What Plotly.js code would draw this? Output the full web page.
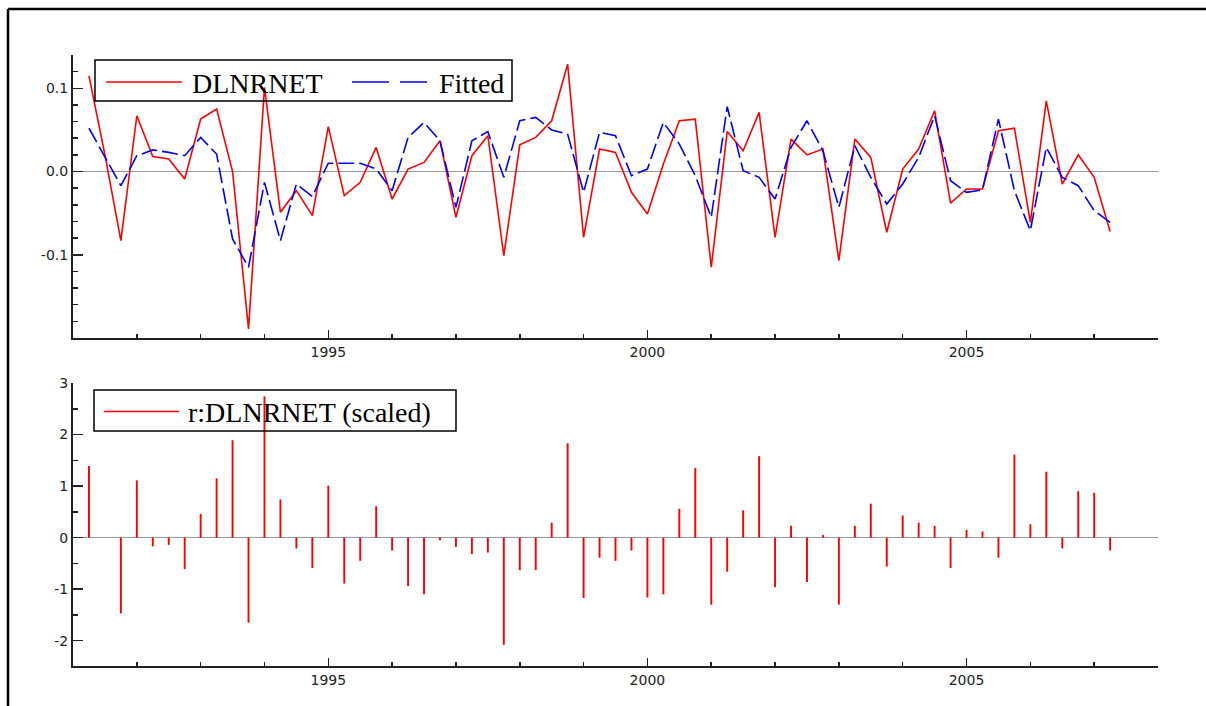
<!DOCTYPE html>
<html>
<head>
<meta charset="utf-8">
<script src="https://cdn.plot.ly/plotly-3.0.1.min.js"></script>
<style>
  html, body { margin: 0; padding: 0; background: #ffffff; }
  #chart { width: 1206px; height: 706px; }
</style>
</head>
<body>
<div id="chart"></div>
<script>
// ---- data (quarterly, 1991Q2 .. 2007Q2) ----
const startYear = 1991;
const startQuarter = 2;

const dlnrnet = [
  0.115, 0.020, -0.083, 0.067, 0.018, 0.015, -0.009, 0.063, 0.075, 0.000,
  -0.189, 0.101, -0.049, -0.023, -0.053, 0.054, -0.029, -0.013, 0.029, -0.033,
  0.003, 0.011, 0.037, -0.055, 0.019, 0.043, -0.101, 0.032, 0.041, 0.061,
  0.129, -0.079, 0.027, 0.023, -0.025, -0.051, 0.009, 0.061, 0.063, -0.115,
  0.048, 0.025, 0.071, -0.079, 0.039, 0.020, 0.027, -0.107, 0.039, 0.017,
  -0.073, 0.003, 0.027, 0.073, -0.038, -0.021, -0.021, 0.049, 0.052, -0.061,
  0.085, -0.015, 0.020, -0.007, -0.072
];

const fitted = [
  0.052, 0.017, -0.017, 0.019, 0.026, 0.023, 0.019, 0.041, 0.021, -0.081,
  -0.115, -0.013, -0.083, -0.015, -0.030, 0.010, 0.010, 0.010, 0.003, -0.023,
  0.041, 0.059, 0.037, -0.043, 0.037, 0.048, -0.007, 0.061, 0.065, 0.050,
  0.045, -0.025, 0.047, 0.043, -0.005, 0.003, 0.059, 0.033, -0.005, -0.055,
  0.078, 0.001, -0.007, -0.033, 0.029, 0.061, 0.025, -0.043, 0.031, -0.007,
  -0.039, -0.015, 0.017, 0.067, -0.011, -0.025, -0.022, 0.063, -0.023, -0.071,
  0.029, -0.007, -0.017, -0.047, -0.061
];

const residScaled = [
  1.39, 0.00, -1.47, 1.11, -0.17, -0.14, -0.61, 0.46, 1.15, 1.89,
  -1.65, 2.74, 0.74, -0.21, -0.59, 1.01, -0.89, -0.45, 0.61, -0.25,
  -0.94, -1.10, -0.05, -0.18, -0.32, -0.29, -2.08, -0.63, -0.63, 0.29,
  1.83, -1.17, -0.39, -0.45, -0.25, -1.16, -1.10, 0.56, 1.35, -1.30,
  -0.66, 0.53, 1.58, -0.96, 0.23, -0.86, 0.05, -1.30, 0.23, 0.66,
  -0.56, 0.43, 0.29, 0.23, -0.59, 0.15, 0.12, -0.39, 1.61, 0.26,
  1.28, -0.21, 0.90, 0.87, -0.25
];

const xTickVals = [1995, 2000, 2005];
const xTickText = ['1995', '2000', '2005'];
const yTopTickVals = [-0.1, 0.0, 0.1];
const yTopTickText = ['-0.1', '0.0', '0.1'];
const yBotTickVals = [-2, -1, 0, 1, 2, 3];
const yBotTickText = ['-2', '-1', '0', '1', '2', '3'];

const seriesNames = ['DLNRNET', 'Fitted', 'r:DLNRNET (scaled)'];

// time axis: year + (quarter-1)/4
const dates = dlnrnet.map((_, i) => startYear + (startQuarter - 1 + i) / 4);

// ---- page geometry helpers (pixels -> paper) ----
const W = 1206, H = 706;
const px = v => v / W;
const py = v => 1 - v / H;

const RED = '#ff0000';
const BLUE = '#0000ff';
const AXC = '#222222';
const tickFont = { family: 'DejaVu Sans, Arial, sans-serif', size: 14, color: '#222222' };
const legFont = { family: 'Liberation Serif, Times New Roman, serif', size: 28, color: '#000000' };

const traces = [
  {
    type: 'scatter', mode: 'lines', name: seriesNames[0],
    x: dates, y: dlnrnet, xaxis: 'x', yaxis: 'y',
    line: { color: RED, width: 1.6 }
  },
  {
    type: 'scatter', mode: 'lines', name: seriesNames[1],
    x: dates, y: fitted, xaxis: 'x', yaxis: 'y',
    line: { color: BLUE, width: 1.6, dash: '16px,5px' }
  },
  {
    type: 'bar', name: seriesNames[2],
    x: dates, y: residScaled, xaxis: 'x2', yaxis: 'y2',
    width: 0.03,
    marker: { color: RED, line: { width: 0 } }
  }
];

function xAxis(anchor) {
  return {
    domain: [px(73), px(1158)],
    anchor: anchor,
    range: [1991, 2008],
    tickmode: 'array', tickvals: xTickVals, ticktext: xTickText,
    ticks: 'inside', ticklen: 8, tickwidth: 1.5, tickcolor: AXC,
    minor: { tickmode: 'linear', tick0: 1991, dtick: 1, ticks: 'inside', ticklen: 4, tickwidth: 1.5, tickcolor: AXC, showgrid: false },
    showline: true, linecolor: AXC, linewidth: 2,
    showgrid: false, zeroline: false,
    tickfont: tickFont, fixedrange: true
  };
}

const layout = {
  width: W, height: H,
  margin: { l: 0, r: 0, t: 0, b: 0, pad: 0 },
  paper_bgcolor: '#ffffff', plot_bgcolor: '#ffffff',
  showlegend: false,
  xaxis: xAxis('y'),
  xaxis2: xAxis('y2'),
  yaxis: {
    domain: [py(338), py(55)],
    anchor: 'x',
    range: [-0.2, 0.14],
    tickmode: 'array', tickvals: yTopTickVals, ticktext: yTopTickText,
    ticks: 'inside', ticklen: 10, tickwidth: 1.5, tickcolor: AXC,
    minor: { tickmode: 'linear', tick0: 0, dtick: 0.02, ticks: 'inside', ticklen: 5, tickwidth: 1.5, tickcolor: AXC, showgrid: false },
    showline: true, linecolor: AXC, linewidth: 2,
    showgrid: false,
    zeroline: true, zerolinecolor: '#9a9a9a', zerolinewidth: 1.5,
    tickfont: tickFont, fixedrange: true
  },
  yaxis2: {
    domain: [py(666), py(383)],
    anchor: 'x2',
    range: [-2.49, 3.0],
    tickmode: 'array', tickvals: yBotTickVals, ticktext: yBotTickText,
    ticks: 'inside', ticklen: 10, tickwidth: 1.5, tickcolor: AXC,
    minor: { tickmode: 'linear', tick0: 0, dtick: 0.5, ticks: 'inside', ticklen: 5, tickwidth: 1.5, tickcolor: AXC, showgrid: false },
    showline: true, linecolor: AXC, linewidth: 2,
    showgrid: false,
    zeroline: true, zerolinecolor: '#9a9a9a', zerolinewidth: 1.5,
    tickfont: tickFont, fixedrange: true
  },
  shapes: [
    // outer frame (top and left edges)
    { type: 'line', xref: 'paper', yref: 'paper', x0: px(8), x1: px(1206), y0: py(9), y1: py(9), line: { color: '#000', width: 2.5 } },
    { type: 'line', xref: 'paper', yref: 'paper', x0: px(8), x1: px(8), y0: py(9), y1: py(706), line: { color: '#000', width: 2.5 } },
    // top legend box + samples
    { type: 'rect', xref: 'paper', yref: 'paper', x0: px(95), x1: px(512), y0: py(101), y1: py(60), line: { color: '#000', width: 1.5 }, fillcolor: 'rgba(0,0,0,0)' },
    { type: 'line', xref: 'paper', yref: 'paper', x0: px(106), x1: px(182), y0: py(82), y1: py(82), line: { color: RED, width: 1.6 } },
    { type: 'line', xref: 'paper', yref: 'paper', x0: px(352), x1: px(427), y0: py(82), y1: py(82), line: { color: BLUE, width: 1.6, dash: '37px,11px' } },
    // bottom legend box + sample
    { type: 'rect', xref: 'paper', yref: 'paper', x0: px(94), x1: px(456), y0: py(431), y1: py(390), line: { color: '#000', width: 1.5 }, fillcolor: 'rgba(0,0,0,0)' },
    { type: 'line', xref: 'paper', yref: 'paper', x0: px(104), x1: px(179), y0: py(411.5), y1: py(411.5), line: { color: RED, width: 1.6 } }
  ],
  annotations: [
    { xref: 'paper', yref: 'paper', x: px(190), y: py(83), xanchor: 'left', yanchor: 'middle', text: seriesNames[0], showarrow: false, font: legFont },
    { xref: 'paper', yref: 'paper', x: px(437), y: py(83), xanchor: 'left', yanchor: 'middle', text: seriesNames[1], showarrow: false, font: legFont },
    { xref: 'paper', yref: 'paper', x: px(186), y: py(412), xanchor: 'left', yanchor: 'middle', text: seriesNames[2], showarrow: false, font: legFont }
  ]
};

Plotly.newPlot('chart', traces, layout, { displayModeBar: false, staticPlot: true });
</script>
</body>
</html>
